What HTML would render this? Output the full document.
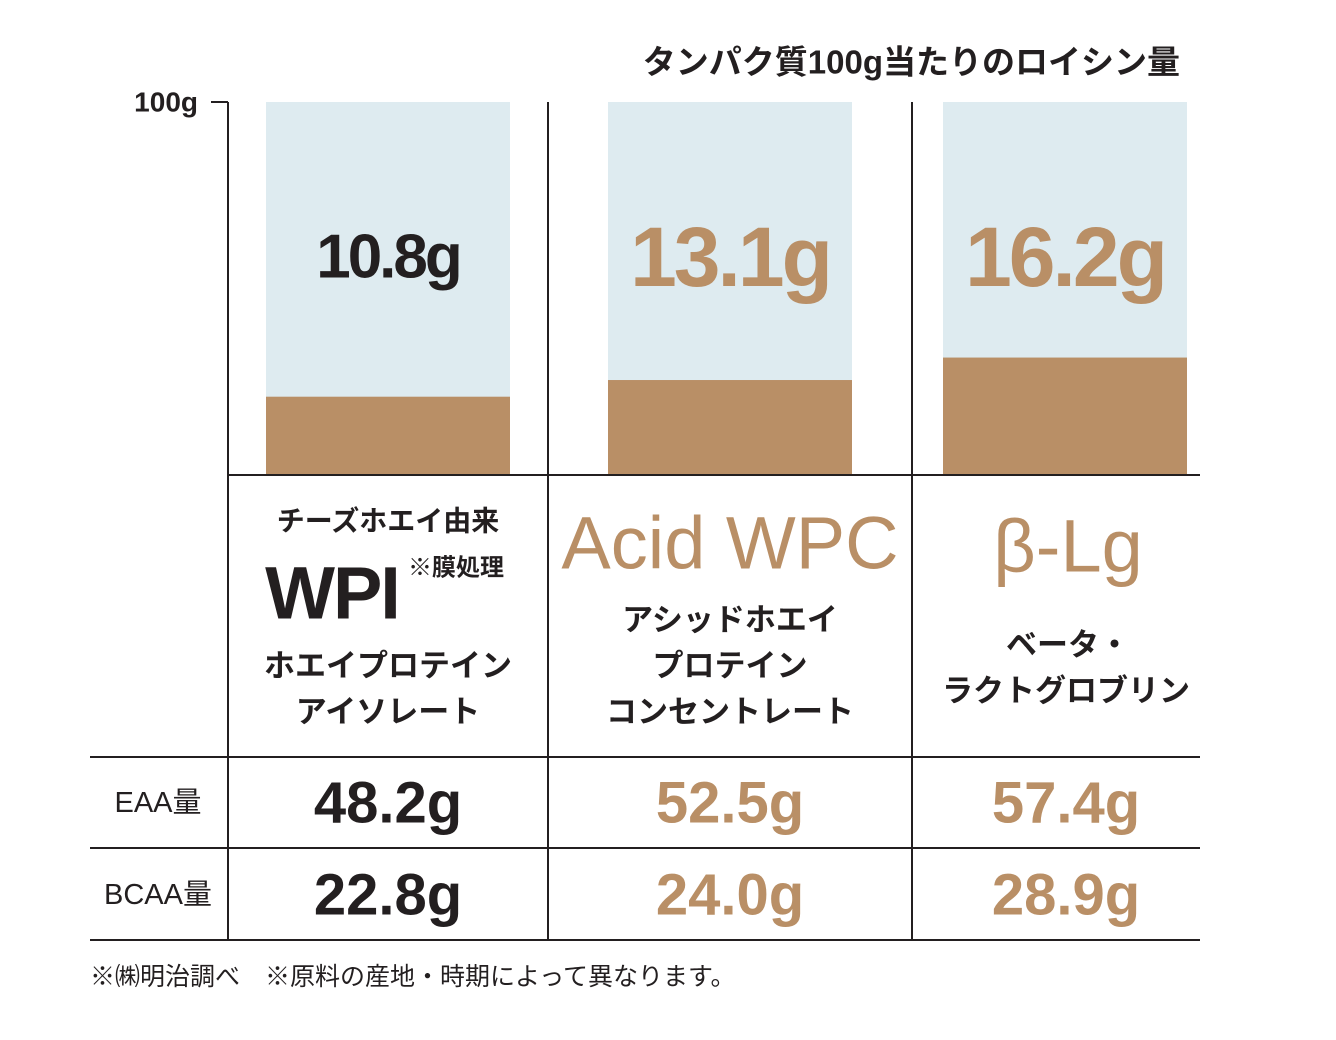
<!DOCTYPE html>
<html><head><meta charset="utf-8"><style>
html,body{margin:0;padding:0;background:#fff;}
svg{display:block;font-family:"Liberation Sans","Noto Sans CJK JP",sans-serif;}
</style></head><body>
<svg width="1336" height="1040" viewBox="0 0 1336 1040">
<g id="bars"></g>
<g id="grid" stroke="#231f20" stroke-width="2">
  <line x1="228" y1="102" x2="228" y2="940"/>
  <line x1="211" y1="102" x2="228" y2="102"/>
  <line x1="548" y1="102" x2="548" y2="940"/>
  <line x1="912" y1="102" x2="912" y2="940"/>
  <line x1="228" y1="475" x2="1200" y2="475"/>
  <line x1="90" y1="757" x2="1200" y2="757"/>
  <line x1="90" y1="848" x2="1200" y2="848"/>
  <line x1="90" y1="940" x2="1200" y2="940"/>
</g>
<text x="1180" y="62" text-anchor="end" dominant-baseline="central" font-size="33" font-weight="bold" fill="#231f20">タンパク質100g当たりのロイシン量</text>
<text x="198" y="102" text-anchor="end" dominant-baseline="central" font-size="28" font-weight="bold" fill="#231f20">100g</text>

<g font-weight="bold" fill="#231f20" text-anchor="middle" dominant-baseline="central">
  <text x="388" y="521" font-size="28">チーズホエイ由来</text>
  <text x="332" y="593" font-size="74" letter-spacing="-2">WPI</text>
  <text x="456" y="568" font-size="24">※膜処理</text>
  <text x="388" y="666" font-size="31">ホエイプロテイン</text>
  <text x="388" y="712" font-size="31">アイソレート</text>
  <text x="730" y="543" font-size="74" fill="#b98f66" font-weight="normal" style="font-weight:500">Acid WPC</text>
  <text x="730" y="620" font-size="31">アシッドホエイ</text>
  <text x="730" y="666" font-size="31">プロテイン</text>
  <text x="730" y="712" font-size="31">コンセントレート</text>
  <text x="1068" y="546" font-size="74" fill="#b98f66" font-weight="normal">β-Lg</text>
  <text x="1068" y="645" font-size="31">ベータ・</text>
  <text x="1066" y="691" font-size="31">ラクトグロブリン</text>
  <text x="158" y="803" font-size="29" font-weight="normal">EAA量</text>
  <text x="158" y="895" font-size="29" font-weight="normal">BCAA量</text>
</g>
<g id="table"></g>
<text x="90" y="977" dominant-baseline="central" font-size="25" fill="#231f20">※㈱明治調べ　※原料の産地・時期によって異なります。</text>
<script>
const categories = ["WPI", "Acid WPC", "β-Lg"];
const leucine = [10.8, 13.1, 16.2];
const leucineLabels = ["10.8g", "13.1g", "16.2g"];
const eaa = ["48.2g", "52.5g", "57.4g"];
const bcaa = ["22.8g", "24.0g", "28.9g"];
const colorsText = ["#231f20", "#b98f66", "#b98f66"];
const NS = "http://www.w3.org/2000/svg";
const barLeft = [266, 608, 943], barW = 244;
const colCenter = [388, 730, 1066];
function y(v){ return 475 - v * 7.25; }
const top100 = 102;
const bars = document.getElementById("bars");
const table = document.getElementById("table");
categories.forEach((c, i) => {
  const bg = document.createElementNS(NS, "rect");
  bg.setAttribute("x", barLeft[i]); bg.setAttribute("y", top100);
  bg.setAttribute("width", barW); bg.setAttribute("height", 475 - top100);
  bg.setAttribute("fill", "#deebf0");
  
  
  bars.appendChild(bg);
  const r = document.createElementNS(NS, "rect");
  r.setAttribute("x", barLeft[i]); r.setAttribute("y", y(leucine[i]));
  r.setAttribute("width", barW); r.setAttribute("height", 475 - y(leucine[i]));
  r.setAttribute("fill", "#b98f66");
  
  
  bars.appendChild(r);
  const t = document.createElementNS(NS, "text");
  t.setAttribute("x", barLeft[i] + barW / 2); t.setAttribute("y", 257);
  t.setAttribute("text-anchor", "middle"); t.setAttribute("dominant-baseline", "central");
  t.setAttribute("font-weight", "bold");
  t.setAttribute("font-size", i === 0 ? 62 : 84);
  t.setAttribute("letter-spacing", "-3");
  t.setAttribute("fill", colorsText[i]);
  t.textContent = leucineLabels[i];
  
  
  bars.appendChild(t);
  [[eaa, 803], [bcaa, 895]].forEach(([arr, yy]) => {
    const v = document.createElementNS(NS, "text");
    v.setAttribute("x", colCenter[i]); v.setAttribute("y", yy);
    v.setAttribute("text-anchor", "middle"); v.setAttribute("dominant-baseline", "central");
    v.setAttribute("font-weight", "bold"); v.setAttribute("font-size", 58);
    v.setAttribute("fill", colorsText[i]);
    v.textContent = arr[i];
    
    
    table.appendChild(v);
  });
});
</script>
</svg>
</body></html>
